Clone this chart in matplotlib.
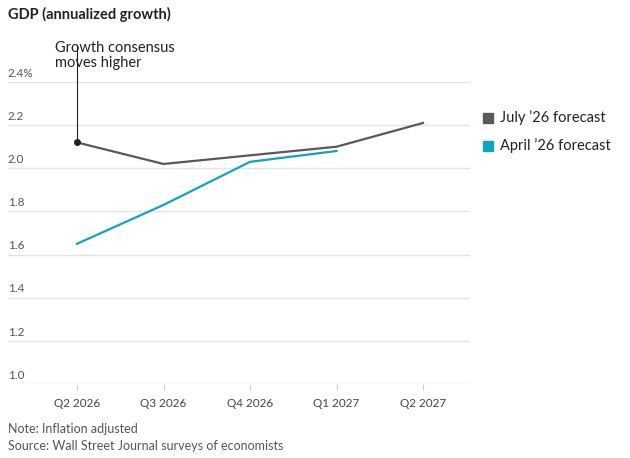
import matplotlib
matplotlib.use("Agg")
import matplotlib.pyplot as plt

plt.rcParams['font.family'] = ['Lato', 'DejaVu Sans']

quarters = ["Q2 2026", "Q3 2026", "Q4 2026", "Q1 2027", "Q2 2027"]
july = [2.12, 2.02, 2.06, 2.10, 2.21]
april = [1.65, 1.83, 2.03, 2.08]
yticks = [1.0, 1.2, 1.4, 1.6, 1.8, 2.0, 2.2, 2.4]
ylabels = ["1.0", "1.2", "1.4", "1.6", "1.8", "2.0", "2.2", "2.4%"]

W, H = 630, 458
fig = plt.figure(figsize=(6.3, 4.58), dpi=100)
ax = fig.add_axes([8/W, 1-384/H, (470-8)/W, (384-82)/H])
ax.set_xlim(-69/86.5, 4 + 47/86.5)
ax.set_ylim(1.0, 2.4)
for s in ax.spines.values():
    s.set_visible(False)
for y, lab in zip(yticks, ylabels):
    ax.axhline(y, color="#e3e3e3", lw=1, zorder=0)
    ax.text(-69/86.5, y + 0.015, lab, fontsize=8.5, color="#555", va="bottom", ha="left")
ax.set_yticks([])
ax.set_xticks(range(len(quarters)))
ax.set_xticklabels(quarters, fontsize=8.5, color="#444")
ax.tick_params(axis="x", length=4, color="#ccc", pad=6)

c_j, c_a = "#595959", "#13a3be"
ax.plot(range(len(july)), july, color=c_j, lw=1.6)
ax.plot(range(len(april)), april, color=c_a, lw=1.6)
ax.plot([0], [july[0]], "o", color="#222", ms=4)
ax.plot([0, 0], [july[0], 2.57], color="#222", lw=0.8, clip_on=False)
ax.text(-0.25, 2.455, "Growth consensus\nmoves higher", fontsize=10.5, color="#222",
        ha="left", va="bottom", linespacing=1.1)

fig.text(8/W, 1-14/H, "GDP (annualized growth)", fontsize=10.5, fontweight="bold",
         color="#222", va="center")
for yy, lab, col in [(118, "July ’26 forecast", c_j), (146, "April ’26 forecast", c_a)]:
    fig.patches.append(plt.Rectangle((483/W, 1-(yy+5)/H), 10/W, 10/H, color=col,
                                     transform=fig.transFigure))
    fig.text(500/W, 1-yy/H, lab, fontsize=10.5, color="#222", va="center")
fig.text(8/W, 1-429/H, "Note: Inflation adjusted", fontsize=9, color="#555", va="center")
fig.text(8/W, 1-446/H, "Source: Wall Street Journal surveys of economists", fontsize=9,
         color="#555", va="center")
fig.savefig("out.png", dpi=100)
